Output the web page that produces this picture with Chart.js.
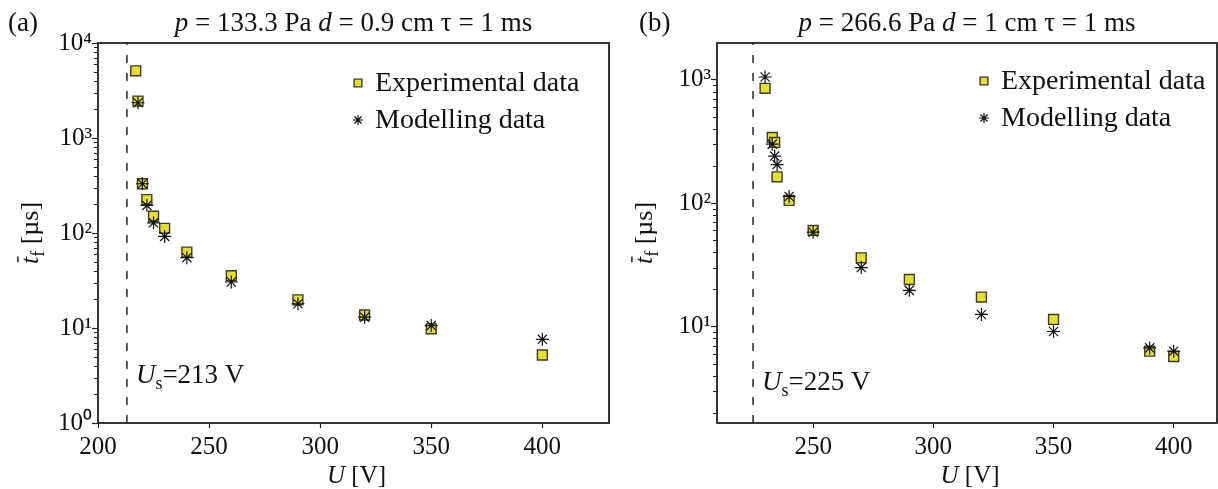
<!DOCTYPE html>
<html>
<head>
<meta charset="utf-8">
<script src="https://cdn.jsdelivr.net/npm/chart.js@4.4.0/dist/chart.umd.min.js"></script>
<style>
  html, body { margin: 0; padding: 0; background: #fff; }
  #wrap { position: relative; width: 1218px; height: 489px; }
  .panel { position: absolute; top: 0; height: 489px; }
  #panelA { left: 0; width: 620px; }
  #panelB { left: 620px; width: 598px; }
</style>
</head>
<body>
<div id="wrap">
  <div class="panel" id="panelA"><canvas id="chartA"></canvas></div>
  <div class="panel" id="panelB"><canvas id="chartB"></canvas></div>
</div>
<script>
// panel (a): p = 133.3 Pa, d = 0.9 cm, tau = 1 ms
const expVoltageA = [217, 218, 220, 222, 225, 230, 240, 260, 290, 320, 350, 400];
const expTimeA = [5100, 2450, 330, 225, 150, 112, 63, 35.5, 19.8, 13.7, 9.8, 5.2];
const modVoltageA = [218, 220, 222, 225, 230, 240, 260, 290, 320, 350, 400];
const modTimeA = [2350, 330, 195, 128, 92, 55, 30.5, 18, 13, 10.6, 7.6];
const staticVoltageA = 213;
const xTicksA = [200, 250, 300, 350, 400];
const yTicksA = [1, 10, 100, 1000, 10000];

// panel (b): p = 266.6 Pa, d = 1 cm, tau = 1 ms
const expVoltageB = [230, 233, 234, 235, 240, 250, 270, 290, 320, 350, 390, 400];
const expTimeB = [850, 340, 310, 163, 105, 60, 36, 24, 17.3, 11.4, 6.3, 5.7];
const modVoltageB = [230, 233, 234, 235, 240, 250, 270, 290, 320, 350, 390, 400];
const modTimeB = [1050, 300, 240, 205, 113, 58, 30, 19.6, 12.5, 9.1, 6.7, 6.3];
const staticVoltageB = 225;
const xTicksB = [250, 300, 350, 400];
const yTicksB = [10, 100, 1000];

const seriesNames = ['Experimental data', 'Modelling data'];

const FONT = "'Liberation Serif', 'Times New Roman', serif";
const SUP = { '0': '\u2070', '1': '\u00b9', '2': '\u00b2', '3': '\u00b3', '4': '\u2074' };

// draw a line of text made of parts: {t, i: italic, sub: subscript, bar: overbar}
function drawRich(ctx, parts, x, y, size, align) {
    let w = 0;
    const items = parts.map(p => {
        const s = p.sub ? Math.round(size * 0.68) : size;
        const f = (p.i ? 'italic ' : '') + s + 'px ' + FONT;
        ctx.font = f;
        const m = ctx.measureText(p.t).width;
        w += m;
        return { t: p.t, f: f, w: m, dy: p.sub ? size * 0.22 : 0, bar: p.bar };
    });
    let cx = align === 'center' ? x - w / 2 : (align === 'right' ? x - w : x);
    ctx.textAlign = 'left';
    ctx.textBaseline = 'alphabetic';
    items.forEach(it => {
        ctx.font = it.f;
        ctx.fillText(it.t, cx, y + it.dy);
        if (it.bar) ctx.fillRect(cx + it.w * 0.25, y - size * 0.8, it.w * 0.8, 1.4);
        cx += it.w;
    });
}

const decorPlugin = {
    id: 'decor',
    afterDraw(chart, args, o) {
        const { ctx, chartArea: a, scales } = chart;
        const xs = scales.x, ys = scales.y;
        ctx.save();
        ctx.fillStyle = '#111';
        ctx.strokeStyle = '#222';

        // frame round the plot
        ctx.lineWidth = 1.8;
        ctx.strokeRect(a.left, a.top, a.right - a.left, a.bottom - a.top);

        // minor log ticks
        ctx.lineWidth = 1;
        const lo = Math.floor(Math.log10(ys.min)), hi = Math.ceil(Math.log10(ys.max));
        for (let e = lo; e < hi; e++) {
            for (let k = 2; k <= 9; k++) {
                const v = k * Math.pow(10, e);
                if (v < ys.min || v > ys.max) continue;
                const py = Math.round(ys.getPixelForValue(v)) + 0.5;
                ctx.beginPath();
                ctx.moveTo(a.left, py);
                ctx.lineTo(a.left - 4, py);
                ctx.stroke();
            }
        }

        // panel tag and title
        ctx.font = '27px ' + FONT;
        ctx.textAlign = 'left';
        ctx.textBaseline = 'alphabetic';
        ctx.fillText(o.tag, o.tagX, 31);
        drawRich(ctx, o.title, (a.left + a.right) / 2, 31, 27, 'center');

        // axis titles
        drawRich(ctx, [{ t: 'U', i: 1 }, { t: ' [V]' }], (a.left + a.right) / 2 + 3, 483, 25, 'center');
        ctx.save();
        ctx.translate(o.yTitleX, (a.top + a.bottom) / 2);
        ctx.rotate(-Math.PI / 2);
        drawRich(ctx, [{ t: 't', i: 1, bar: 1 }, { t: 'f', sub: 1 }, { t: ' [\u00b5s]' }], 0, 9, 26, 'center');
        ctx.restore();

        // static breakdown voltage label
        const ux = xs.getPixelForValue(o.us);
        drawRich(ctx, [{ t: 'U', i: 1 }, { t: 's', sub: 1 }, { t: '=' + o.us + ' V' }], ux + 9, a.bottom - o.usOffset, 27, 'left');

        // legend
        chart.data.datasets.forEach(d => {
            if (d.legendRow === undefined) return;
            const lx = a.left + o.legendX, ly = a.top + o.legendY + d.legendRow * 37;
            ctx.fillStyle = d.backgroundColor;
            ctx.strokeStyle = d.borderColor;
            ctx.lineWidth = d.borderWidth;
            Chart.helpers.drawPoint(ctx, { pointStyle: d.pointStyle, radius: d.legendRadius, rotation: 0, borderWidth: d.borderWidth }, lx, ly);
            ctx.fillStyle = '#111';
            ctx.font = '28px ' + FONT;
            ctx.textBaseline = 'middle';
            ctx.textAlign = 'left';
            ctx.fillText(d.label, lx + 17, ly + 1);
        });
        ctx.restore();
    }
};

function makePanel(id, cfg) {
    const ctx = document.getElementById(id).getContext('2d');
    const pts = (xv, yv) => xv.map((v, i) => ({ x: v, y: yv[i] }));
    return new Chart(ctx, {
        type: 'scatter',
        data: {
            datasets: [{
                label: seriesNames[1],
                data: pts(cfg.modV, cfg.modT),
                pointStyle: 'star',
                pointRadius: 6.5,
                legendRadius: 5,
                backgroundColor: '#111',
                borderColor: '#111',
                borderWidth: 1.2,
                legendRow: 1,
                order: 0
            }, {
                label: seriesNames[0],
                data: pts(cfg.expV, cfg.expT),
                pointStyle: 'rect',
                pointRadius: 7,
                legendRadius: 5.5,
                backgroundColor: '#e8df2c',
                borderColor: '#3b3b33',
                borderWidth: 1.4,
                legendRow: 0,
                order: 1
            }, {
                type: 'line',
                label: 'Us',
                data: [{ x: cfg.us, y: cfg.yMin }, { x: cfg.us, y: cfg.yMax }],
                borderColor: '#333',
                borderWidth: 1.6,
                borderDash: [8, 10],
                pointRadius: 0,
                order: 2
            }]
        },
        options: {
            responsive: true,
            maintainAspectRatio: false,
            animation: false,
            layout: { autoPadding: false, padding: { top: 43, right: cfg.padRight, left: 0, bottom: 0 } },
            plugins: {
                legend: { display: false },
                tooltip: { enabled: false },
                decor: {
                    tag: cfg.tag, tagX: cfg.tagX, title: cfg.title, us: cfg.us,
                    usOffset: cfg.usOffset, legendX: cfg.legendX, legendY: cfg.legendY,
                    yTitleX: cfg.yTitleX
                }
            },
            scales: {
                x: {
                    type: 'linear',
                    min: cfg.xMin,
                    max: cfg.xMax,
                    afterBuildTicks: s => { s.ticks = cfg.xTicks.map(v => ({ value: v })); },
                    afterFit: s => { s.height = 66; s.paddingLeft = 0; s.paddingRight = 0; },
                    grid: { display: true, drawOnChartArea: false, tickLength: 5, tickColor: '#222', tickWidth: 1.2 },
                    border: { display: false },
                    ticks: { color: '#111', font: { family: FONT, size: 25 }, padding: 4, maxRotation: 0 }
                },
                y: {
                    type: 'logarithmic',
                    min: cfg.yMin,
                    max: cfg.yMax,
                    afterBuildTicks: s => { s.ticks = cfg.yTicks.map(v => ({ value: v })); },
                    afterFit: s => { s.width = cfg.yWidth; s.paddingTop = 0; s.paddingBottom = 0; },
                    grid: { display: true, drawOnChartArea: false, tickLength: 6, tickColor: '#222', tickWidth: 1.2 },
                    border: { display: false },
                    ticks: {
                        color: '#111',
                        font: { family: FONT, size: 25 },
                        padding: 0,
                        callback: v => '10' + SUP[String(Math.round(Math.log10(v)))]
                    }
                }
            }
        },
        plugins: [decorPlugin]
    });
}

makePanel('chartA', {
    expV: expVoltageA, expT: expTimeA, modV: modVoltageA, modT: modTimeA,
    us: staticVoltageA, xMin: 200, xMax: 430, yMin: 1, yMax: 10000,
    xTicks: xTicksA, yTicks: yTicksA, yWidth: 98, padRight: 11,
    tag: '(a)', tagX: 8, yTitleX: 29, usOffset: 40, legendX: 260, legendY: 40,
    title: [{ t: 'p', i: 1 }, { t: ' = 133.3 Pa ' }, { t: 'd', i: 1 }, { t: ' = 0.9 cm \u03c4 = 1 ms' }]
});

makePanel('chartB', {
    expV: expVoltageB, expT: expTimeB, modV: modVoltageB, modT: modTimeB,
    us: staticVoltageB, xMin: 210, xMax: 418, yMin: 1.65, yMax: 1980,
    xTicks: xTicksB, yTicks: yTicksB, yWidth: 97, padRight: 1,
    tag: '(b)', tagX: 19, yTitleX: 23, usOffset: 33, legendX: 267, legendY: 38,
    title: [{ t: 'p', i: 1 }, { t: ' = 266.6 Pa ' }, { t: 'd', i: 1 }, { t: ' = 1 cm \u03c4 = 1 ms' }]
});
</script>
</body>
</html>
